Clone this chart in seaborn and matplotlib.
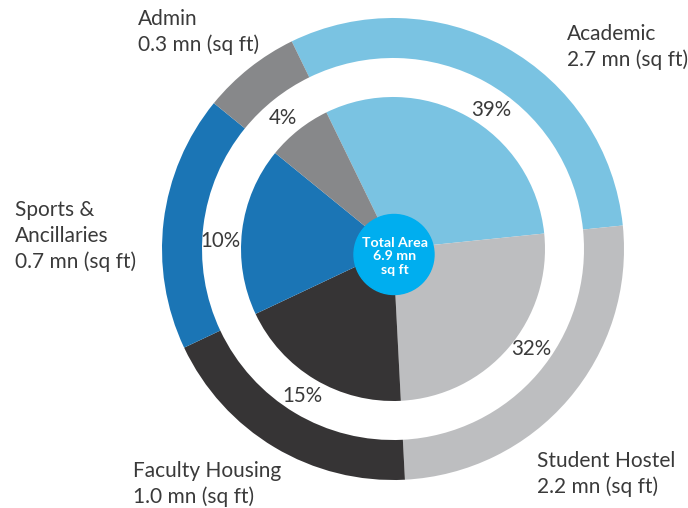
import matplotlib
matplotlib.use("Agg")
import matplotlib.pyplot as plt
import seaborn as sns

# -------------------------------------------------------------
# DATA
# -------------------------------------------------------------
categories = ["Academic", "Student Hostel", "Faculty Housing", "Sports &\nAncillaries", "Admin"]
area_mn = [2.7, 2.2, 1.0, 0.7, 0.3]          # mn sq ft, as printed
pct_labels = [39, 32, 15, 10, 4]              # percent labels, as printed
slice_share = [30.6, 25.8, 18.8, 17.9, 6.9]   # drawn slice sizes
colors = ["#7AC3E2", "#BDBEC0", "#363435", "#1B75B5", "#87888A"]
total_area = 6.9

# -------------------------------------------------------------
# STYLE
# -------------------------------------------------------------
sns.set_theme(style="white")
plt.rcParams["font.family"] = ["Lato", "DejaVu Sans"]
text_col = "#3A3A3A"

W, H = 688, 508
fig = plt.figure(figsize=(W / 100, H / 100), dpi=100)
ax = fig.add_axes([0, 0, 1, 1])
ax.set_xlim(0, W)
ax.set_ylim(0, H)
ax.set_aspect("equal")
ax.axis("off")

cx, cy = 393, H - 249   # chart centre in pixel space

# outer ring
ax.pie(slice_share, colors=colors, radius=231, center=(cx, cy),
       startangle=116, counterclock=False,
       wedgeprops=dict(width=40, linewidth=0))

# inner pie
ax.pie(slice_share, colors=colors, radius=152, center=(cx, cy),
       startangle=116, counterclock=False,
       wedgeprops=dict(linewidth=0))
ax.set_xlim(0, W)
ax.set_ylim(0, H)

# centre bubble
ax.add_patch(plt.Circle((394, H - 254.5), 40, color="#00AEEF", zorder=5))
for txt, by in zip(["Total Area", f"{total_area} mn", "sq ft"], [246.7, 260.5, 273.5]):
    ax.text(395, H - by, txt, ha="center", va="baseline", color="white",
            fontsize=10.2, fontweight="bold", zorder=6)

# percentage labels (centres)
pct_pos = [(491.7, 110), (531.7, 349), (302.2, 396), (220, 241), (282.8, 117.5)]
for p, (px, py) in zip(pct_labels, pct_pos):
    ax.text(px, H - py, f"{p}%", ha="center", va="center", color=text_col, fontsize=14.8)

# category labels: left x, first baseline
label_pos = [(567, 40.5), (537, 466.7), (133, 477), (15, 215.7), (138, 25)]
line_gap = 26
for name, val, (lx, ly) in zip(categories, area_mn, label_pos):
    lines = name.split("\n") + [f"{val} mn (sq ft)"]
    for i, line in enumerate(lines):
        ax.text(lx, H - (ly + i * line_gap), line, ha="left", va="baseline",
                color=text_col, fontsize=15)

fig.savefig("out.png", dpi=100, facecolor="white")
